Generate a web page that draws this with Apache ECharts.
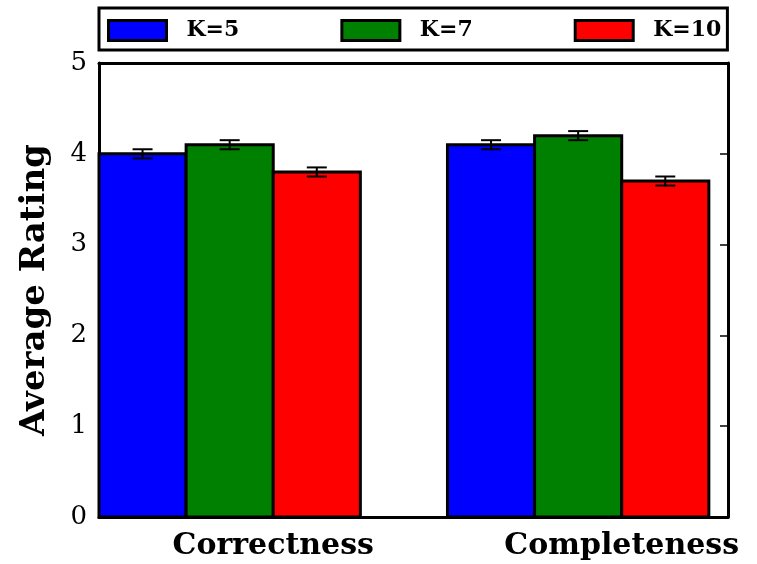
<!DOCTYPE html>
<html>
<head>
<meta charset="utf-8">
<script src="https://cdn.jsdelivr.net/npm/echarts@6/dist/echarts.min.js"></script>
<style>
  html, body { margin: 0; padding: 0; background: #fff; }
  #chart { width: 757px; height: 564px; }
</style>
</head>
<body>
<div id="chart"></div>
<script>
// 数据
const categories = ['Correctness', 'Completeness'];
const seriesNames = ['K=5', 'K=7', 'K=10'];
const k5Values = [4.0, 4.1];
const k7Values = [4.1, 4.2];
const k10Values = [3.8, 3.7];
const k5Err = [0.05, 0.05];
const k7Err = [0.05, 0.05];
const k10Err = [0.05, 0.05];
const yTicks = [0, 1, 2, 3, 4, 5];

const colors = ['#0000ff', '#008000', '#ff0000'];
const barWidth = 0.25;   // 每根柱子宽度（x轴单位）
const fontFamily = '"DejaVu Serif", serif';

const allValues = [k5Values, k7Values, k10Values];
const allErr = [k5Err, k7Err, k10Err];

function renderBar(params, api) {
    const x0 = api.value(0), v = api.value(1), e = api.value(2);
    const topLeft = api.coord([x0, v]);
    const bottomRight = api.coord([x0 + barWidth, 0]);
    const cx = (topLeft[0] + bottomRight[0]) / 2;
    const errTop = api.coord([x0, v + e])[1];
    const errBottom = api.coord([x0, v - e])[1];
    const capHalf = 10;
    return {
        type: 'group',
        children: [{
            type: 'rect',
            shape: {x: topLeft[0], y: topLeft[1], width: bottomRight[0] - topLeft[0], height: bottomRight[1] - topLeft[1]},
            style: {fill: api.visual('color'), stroke: '#000', lineWidth: 3}
        }, {
            type: 'line',
            shape: {x1: cx, y1: errTop, x2: cx, y2: errBottom},
            style: {stroke: '#000', lineWidth: 2}
        }, {
            type: 'line',
            shape: {x1: cx - capHalf, y1: errTop, x2: cx + capHalf, y2: errTop},
            style: {stroke: '#000', lineWidth: 2}
        }, {
            type: 'line',
            shape: {x1: cx - capHalf, y1: errBottom, x2: cx + capHalf, y2: errBottom},
            style: {stroke: '#000', lineWidth: 2}
        }]
    };
}

const series = seriesNames.map(function (name, s) {
    return {
        type: 'custom',
        name: name,
        renderItem: renderBar,
        itemStyle: {color: colors[s]},
        encode: {x: 0, y: 1},
        clip: false,
        data: categories.map(function (c, i) {
            return [i + s * barWidth, allValues[s][i], allErr[s][i]];
        })
    };
});

const chart = echarts.init(document.getElementById('chart'), null, {renderer: 'canvas'});
chart.setOption({
    animation: false,
    backgroundColor: '#fff',
    grid: {left: 99, right: 29, top: 63, bottom: 47},
    legend: {
        data: seriesNames,
        orient: 'horizontal',
        left: 99,
        top: 8,
        width: 650,
        padding: [11, 6, 8, 8],
        itemGap: 101,
        itemWidth: 58,
        itemHeight: 20,
        borderColor: '#000',
        borderWidth: 3,
        borderRadius: 0,
        icon: 'rect',
        itemStyle: {borderColor: '#000', borderWidth: 3},
        textStyle: {fontFamily: fontFamily, fontWeight: 'bold', fontSize: 22, color: '#000', padding: [0, 0, 0, 15]}
    },
    xAxis: [{
        type: 'value',
        min: 0,
        max: 1.805,
        interval: 0.5,
        axisLine: {show: true, lineStyle: {color: '#000', width: 3}},
        axisTick: {show: false},
        splitLine: {show: false},
        axisLabel: {
            showMaxLabel: false,
            margin: 14,
            fontFamily: fontFamily,
            fontWeight: 'bold',
            fontSize: 30,
            color: '#000',
            formatter: function (value) {
                const idx = value - 0.5;
                return Number.isInteger(idx) && categories[idx] ? categories[idx] : '';
            }
        }
    }, {
        type: 'value',
        position: 'top',
        min: 0,
        max: 1.805,
        axisLine: {show: true, onZero: false, lineStyle: {color: '#000', width: 3}},
        axisTick: {show: false},
        axisLabel: {show: false},
        splitLine: {show: false}
    }],
    yAxis: [{
        type: 'value',
        min: 0,
        max: 5,
        interval: 1,
        name: 'Average Rating',
        nameLocation: 'middle',
        nameRotate: 90,
        nameGap: 47,
        nameTextStyle: {fontFamily: fontFamily, fontWeight: 'bold', fontSize: 34, color: '#000'},
        axisLine: {show: true, onZero: false, lineStyle: {color: '#000', width: 3}},
        axisTick: {show: true, inside: true, length: 8, lineStyle: {color: '#000', width: 1.5}},
        splitLine: {show: false},
        axisLabel: {
            margin: 12,
            fontFamily: fontFamily,
            fontSize: 26,
            color: '#000',
            formatter: function (value) {
                return yTicks.indexOf(value) >= 0 ? String(value) : '';
            }
        }
    }, {
        type: 'value',
        position: 'right',
        min: 0,
        max: 5,
        interval: 1,
        axisLine: {show: true, onZero: false, lineStyle: {color: '#000', width: 3}},
        axisTick: {show: true, inside: true, length: 8, lineStyle: {color: '#000', width: 1.5}},
        axisLabel: {show: false},
        splitLine: {show: false}
    }],
    series: series
});
</script>
</body>
</html>
